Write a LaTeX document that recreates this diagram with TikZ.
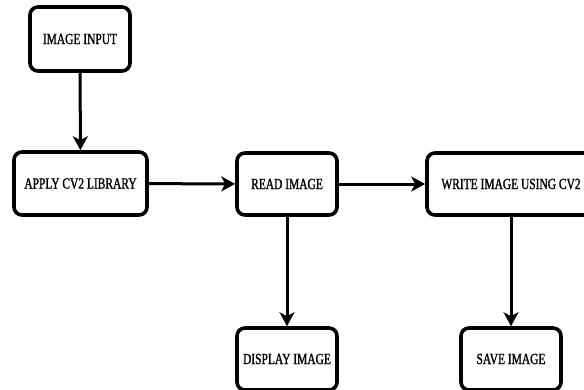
\documentclass[tikz,border=0pt]{standalone}
\usepackage{fontspec}
\setmainfont{Liberation Serif}
\newfontfamily\boxfont[FakeStretch=0.74,FakeBold=1.2]{Liberation Serif}
\usetikzlibrary{arrows.meta}
\tikzset{
  procbox/.style={draw=black, line width=3.6pt, rounded corners=8pt, fill=white,
    inner sep=0pt, font=\boxfont\fontsize{15.5}{17}\selectfont, align=center},
  flow/.style={line width=3pt, -{Stealth[length=14pt,width=15pt,inset=4pt]}}
}
\begin{document}
\begin{tikzpicture}[x=1pt,y=-1pt]
\useasboundingbox (0,0) rectangle (584,389);
\node[procbox, minimum width=100pt, minimum height=64pt] (input) at (80,39) {IMAGE INPUT};
\node[procbox, minimum width=133pt, minimum height=63pt] (apply) at (80.5,183.5) {APPLY CV2 LIBRARY};
\node[procbox, minimum width=100pt, minimum height=62pt] (read) at (287,184) {READ IMAGE};
\node[procbox, minimum width=168pt, minimum height=62pt] (write) at (511,184) {WRITE IMAGE USING CV2};
\node[procbox, minimum width=100pt, minimum height=62pt] (display) at (287,359) {DISPLAY IMAGE};
\node[procbox, minimum width=100pt, minimum height=62pt] (save) at (511,359) {SAVE IMAGE};
\draw[flow] (input) -- (apply);
\draw[flow] (apply) -- (read);
\draw[flow] (read) -- (write);
\draw[flow] (read) -- (display);
\draw[flow] (write) -- (save);
\end{tikzpicture}
\end{document}
